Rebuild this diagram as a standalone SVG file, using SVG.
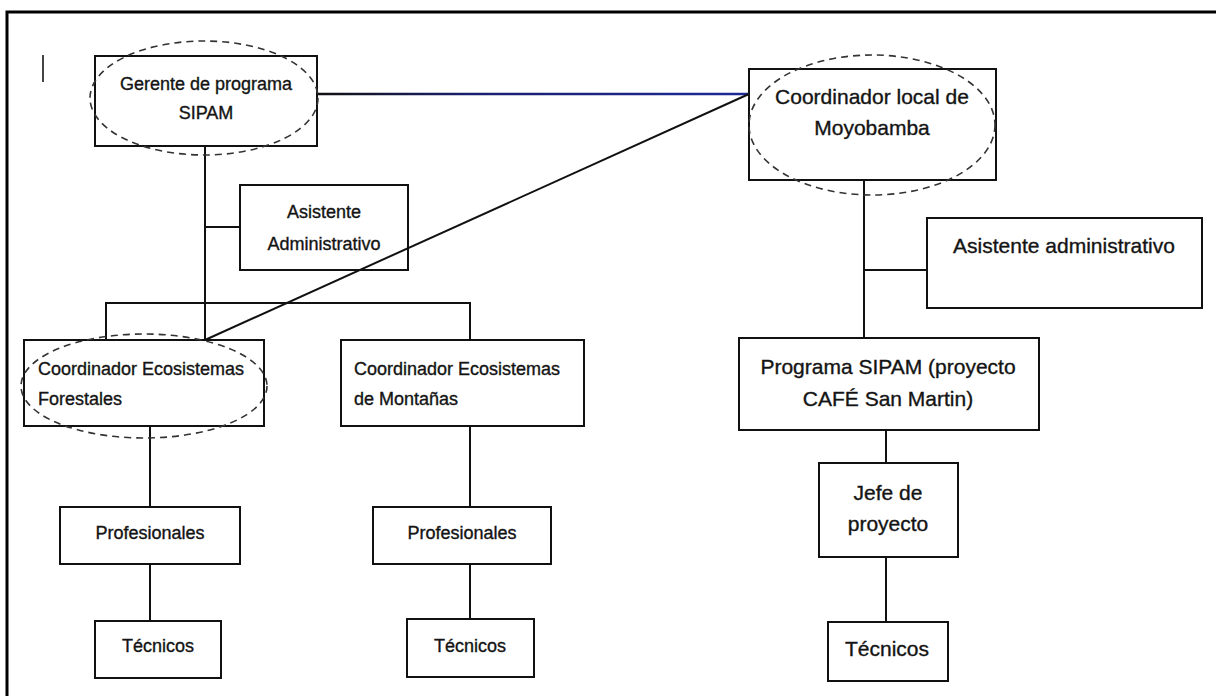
<svg xmlns="http://www.w3.org/2000/svg" width="1216" height="696" viewBox="0 0 1216 696">
  <style>
    .box { fill: none; stroke: #111111; stroke-width: 2; }
    .ring { fill: none; stroke: #333333; stroke-width: 1.6; stroke-dasharray: 7 5; }
    .conn { fill: none; stroke: #111111; stroke-width: 2; }
    .frame { fill: none; stroke: #000000; stroke-width: 3; }
    text { font-family: "Liberation Sans", Arial, sans-serif; fill: #141414; stroke: #141414; stroke-width: 0.35; }
    .sm { font-size: 18px; }
    .lg { font-size: 21px; }
    .mid { text-anchor: middle; }
  </style>
  <defs>
    <linearGradient id="linkBlue" x1="317" y1="0" x2="749" y2="0" gradientUnits="userSpaceOnUse">
      <stop offset="0" stop-color="#111111"/>
      <stop offset="0.35" stop-color="#1a1f6e"/>
      <stop offset="1" stop-color="#1c2a96"/>
    </linearGradient>
  </defs>

  <rect width="1216" height="696" fill="#ffffff"/>

  <!-- page frame (top and left edges) -->
  <polyline class="frame" points="7,696 7,12 1216,12"/>
  <line x1="43" y1="55" x2="43" y2="82" stroke="#444444" stroke-width="2"/>

  <!-- connectors -->
  <g id="connectors">
    <line x1="317" y1="94" x2="749" y2="94" stroke="url(#linkBlue)" stroke-width="2.4"/>
    <line class="conn" x1="749" y1="94" x2="205" y2="340" stroke="#15153a"/>
    <line class="conn" x1="205" y1="146" x2="205" y2="340"/>
    <line class="conn" x1="205" y1="227" x2="240" y2="227"/>
    <polyline class="conn" points="106,340 106,303 470,303 470,340"/>
    <line class="conn" x1="150" y1="426" x2="150" y2="507"/>
    <line class="conn" x1="150" y1="564" x2="150" y2="621"/>
    <line class="conn" x1="470" y1="426" x2="470" y2="507"/>
    <line class="conn" x1="470" y1="564" x2="470" y2="619"/>
    <line class="conn" x1="864" y1="180" x2="864" y2="338"/>
    <line class="conn" x1="864" y1="270" x2="927" y2="270"/>
    <line class="conn" x1="886" y1="430" x2="886" y2="463"/>
    <line class="conn" x1="886" y1="557" x2="886" y2="622"/>
  </g>

  <g id="gerente">
    <rect class="box" x="95" y="56" width="222" height="90"/>
    <ellipse class="ring" cx="204" cy="98" rx="114" ry="57"/>
    <text class="sm mid" x="206" y="90">Gerente de programa</text>
    <text class="sm mid" x="206" y="119">SIPAM</text>
  </g>

  <g id="asistente-adm">
    <rect class="box" x="240" y="185" width="168" height="85"/>
    <text class="sm mid" x="324" y="218">Asistente</text>
    <text class="sm mid" x="324" y="250">Administrativo</text>
  </g>

  <g id="coord-forestales">
    <rect class="box" x="24" y="340" width="240" height="86"/>
    <ellipse class="ring" cx="144" cy="386" rx="123" ry="52"/>
    <text class="sm" x="38" y="375">Coordinador Ecosistemas</text>
    <text class="sm" x="38" y="405">Forestales</text>
  </g>

  <g id="coord-montanas">
    <rect class="box" x="341" y="340" width="243" height="86"/>
    <text class="sm" x="354" y="375">Coordinador Ecosistemas</text>
    <text class="sm" x="354" y="405">de Montañas</text>
  </g>

  <g id="profesionales-forestales">
    <rect class="box" x="60" y="507" width="180" height="57"/>
    <text class="sm mid" x="150" y="539">Profesionales</text>
  </g>

  <g id="tecnicos-forestales">
    <rect class="box" x="95" y="621" width="126" height="57"/>
    <text class="sm mid" x="158" y="652">Técnicos</text>
  </g>

  <g id="profesionales-montanas">
    <rect class="box" x="373" y="507" width="178" height="57"/>
    <text class="sm mid" x="462" y="539">Profesionales</text>
  </g>

  <g id="tecnicos-montanas">
    <rect class="box" x="407" y="619" width="127" height="58"/>
    <text class="sm mid" x="470" y="652">Técnicos</text>
  </g>

  <g id="coord-moyobamba">
    <rect class="box" x="749" y="69" width="247" height="111"/>
    <ellipse class="ring" cx="872" cy="125" rx="123" ry="70"/>
    <text class="lg mid" x="872" y="104">Coordinador local de</text>
    <text class="lg mid" x="872" y="135">Moyobamba</text>
  </g>

  <g id="asistente-moyobamba">
    <rect class="box" x="927" y="218" width="275" height="90"/>
    <text class="lg mid" x="1064" y="253">Asistente administrativo</text>
  </g>

  <g id="programa-sipam">
    <rect class="box" x="739" y="338" width="300" height="92"/>
    <text class="lg mid" x="888" y="374">Programa SIPAM (proyecto</text>
    <text class="lg mid" x="888" y="406">CAFÉ San Martin)</text>
  </g>

  <g id="jefe-proyecto">
    <rect class="box" x="819" y="463" width="139" height="94"/>
    <text class="lg mid" x="888" y="500">Jefe de</text>
    <text class="lg mid" x="888" y="531">proyecto</text>
  </g>

  <g id="tecnicos-cafe">
    <rect class="box" x="828" y="622" width="120" height="59"/>
    <text class="lg mid" x="887" y="656">Técnicos</text>
  </g>
</svg>
